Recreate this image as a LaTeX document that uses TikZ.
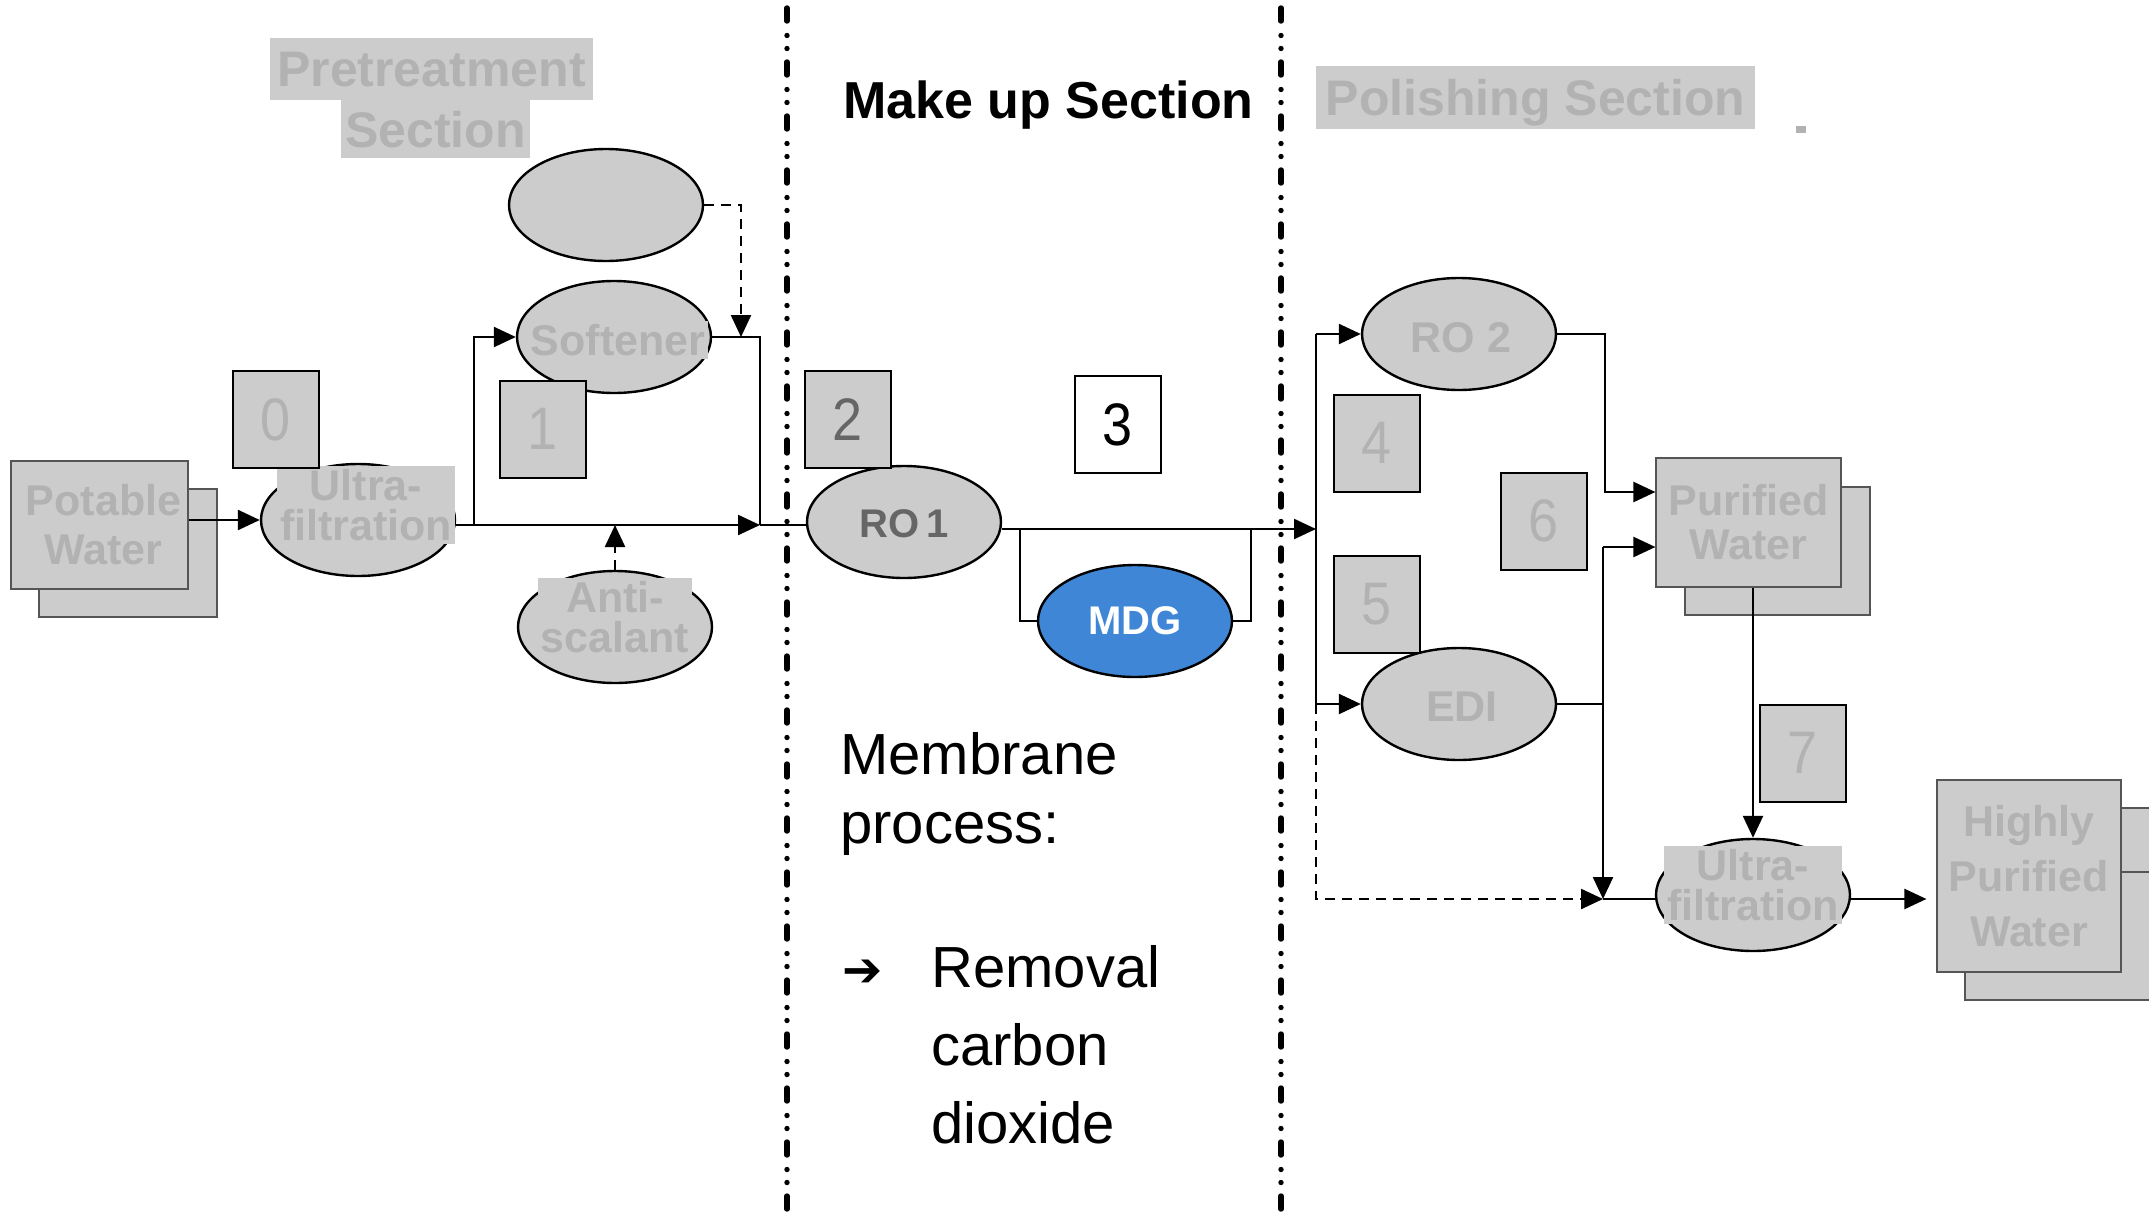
\documentclass[tikz,border=0pt]{standalone}
\usepackage{fontspec}
\setmainfont{Liberation Sans}
\newfontfamily\symfont{DejaVu Sans}
\newfontfamily\digitfont[FakeStretch=0.9]{Liberation Sans}
\usetikzlibrary{shapes.geometric,arrows.meta}
\definecolor{boxgray}{HTML}{CCCCCC}
\definecolor{lblgray}{HTML}{B2B2B2}
\definecolor{rogray}{HTML}{666666}
\definecolor{edgegray}{HTML}{555555}
\definecolor{mdgblue}{HTML}{3F87D6}
\tikzset{
  unit/.style={ellipse, draw=black, line width=1.2pt, fill=boxgray,
    minimum width=97pt, minimum height=56pt, inner sep=0pt},
  numbox/.style={draw=black, line width=1pt, fill=boxgray, minimum width=43pt,
    minimum height=48.5pt, inner sep=0pt, text=lblgray,
    font=\digitfont\fontsize{30pt}{30pt}\selectfont},
  glabel/.style={fill=boxgray, text=lblgray, inner sep=1.5pt, align=center,
    font=\bfseries\fontsize{21.5pt}{20pt}\selectfont},
  stackbox/.style={draw=edgegray, line width=0.6pt, fill=boxgray, inner sep=0pt},
  secbg/.style={fill=boxgray, text=lblgray, inner sep=0pt, text depth=0pt,
    font=\bfseries\fontsize{25pt}{25pt}\selectfont},
  conn/.style={line width=1.2pt},
  arr/.style={conn, -{Triangle[length=11pt,width=10pt]}},
  dconn/.style={conn, dash pattern=on 5pt off 3.5pt},
  darr/.style={dconn, -{Triangle[length=11pt,width=10pt]}},
  divider/.style={line width=2.7pt, line cap=round,
    dash pattern=on 6.5pt off 7.25pt on 0pt off 6.5pt on 0pt off 6.75pt},
  memtext/.style={anchor=base west, inner sep=0pt,
    font=\fontsize{29pt}{34pt}\selectfont},
}
\begin{document}
\begin{tikzpicture}[x=0.5pt,y=-0.5pt]
\useasboundingbox (0,0) rectangle (2149,1221);

% section dividers
\draw[divider] (787,8) -- (787,1221);
\draw[divider] (1281,8) -- (1281,1221);

% section titles
\node[secbg, minimum width=161.5pt, minimum height=31pt] (preA) at (431.5,69) {Pretreatment};
\node[secbg, minimum width=94.5pt, minimum height=29pt] (preB) at (435.5,129) {Section};
\node[anchor=base west, inner sep=0pt, font=\bfseries\fontsize{26pt}{26pt}\selectfont] (makeup) at (843,118) {Make up Section};
\node[secbg, minimum width=219.5pt, minimum height=31.5pt] (polish) at (1535.5,97.5) {Polishing Section};
\node[fill=lblgray, inner sep=0pt, minimum width=5pt, minimum height=3.5pt] (polishmark) at (1801,129.5) {};

% pretreatment section
\node[stackbox, minimum width=89pt, minimum height=64pt] (pwback) at (128,553) {};
\node[stackbox, minimum width=88.5pt, minimum height=64pt, text=lblgray, align=center,
  font=\bfseries\fontsize{21.5pt}{24.5pt}\selectfont] (pw) at (99.5,525) {\hspace*{4pt}Potable\\\hspace*{4pt}Water};

\node[unit] (uf1) at (358,520) {};
\node[glabel] (uf1lbl) at (366,505) {Ultra-\\filtration};
\node[unit] (topu) at (606,205) {};
\node[unit] (sof) at (614,337) {};
\node[glabel, text depth=0pt] (soflbl) at (618,340) {Softener};
\node[unit] (as) at (615,627) {};
\node[glabel] (aslbl) at (615,617) {Anti-\\scalant};

\node[numbox] (n0) at (276,419.5) {0};
\node[numbox] (n1) at (542.5,429) {1};

\coordinate (jA) at (760,525);
\coordinate (sbr) at (474,525);
\coordinate (dropA) at (741,337);

\draw[arr] (pw.east |- uf1.west) -- (uf1.west);
\draw[arr] (uf1.east |- jA) -- (jA);
\draw[arr] (sbr) |- (sof.west);
\draw[conn] (sof.east) -| (jA);
\draw[darr] (topu.east) -| (dropA);
\draw[darr] (as.north) -- (as.north |- jA);
\draw[conn] (jA) -- (jA -| 808,0);

% make up section
\node[unit] (ro1) at (904,522) {};
\node[inner sep=0pt, text=rogray, font=\bfseries\fontsize{20pt}{20pt}\selectfont] (ro1lbl) at (904,524) {RO\,1};
\node[unit, fill=mdgblue] (mdg) at (1135,621) {};
\node[inner sep=0pt, text=white, font=\bfseries\fontsize{20pt}{20pt}\selectfont] (mdglbl) at (1135,621) {MDG};
\node[numbox, text=rogray] (n2) at (848,419.5) {2};
\node[numbox, fill=white, text=black] (n3) at (1118,424.5) {3};

\coordinate (busIn) at (1316,529);
\coordinate (bpL) at (1020,529);
\coordinate (bpR) at (1251,529);
\draw[arr] (ro1.east |- busIn) -- (busIn);
\draw[conn] (bpL) |- (mdg.west);
\draw[conn] (mdg.east) -| (bpR);

\node[memtext] (memA) at (840,774) {Membrane};
\node[memtext] (memB) at (840,843) {process:};
\node[anchor=base west, inner sep=0pt, font=\symfont\bfseries\fontsize{24pt}{24pt}\selectfont] (memArrow) at (842,986) {➔};
\node[memtext] (memC) at (931,987) {Removal};
\node[memtext] (memD) at (931,1065) {carbon};
\node[memtext] (memE) at (931,1143) {dioxide};

% polishing section
\node[unit] (ro2) at (1459,334) {};
\node[glabel, text depth=0pt] (ro2lbl) at (1461,337) {RO 2};
\node[unit] (edi) at (1459,704) {};
\node[glabel, text depth=0pt] (edilbl) at (1462,707) {EDI};
\node[numbox] (n4) at (1377,443) {4};
\node[numbox] (n5) at (1377,604.5) {5};
\node[numbox] (n6) at (1544,521) {6};

\node[stackbox, minimum width=92.5pt, minimum height=64pt] (purback) at (1777.5,551) {};
\node[stackbox, minimum width=92.5pt, minimum height=64.5pt, text=lblgray, align=center,
  font=\bfseries\fontsize{21.5pt}{22pt}\selectfont] (pur) at (1748.5,522.5) {Purified\\Water};

\node[unit] (uf2) at (1753,895) {};
\node[glabel] (uf2lbl) at (1753,885) {Ultra-\\filtration};
\node[numbox] (n7) at (1803,753) {7};

\node[stackbox, minimum width=106pt, minimum height=96pt] (hpwback) at (2071,904) {};
\node[stackbox, minimum width=92pt, minimum height=96pt, text=lblgray, align=center,
  font=\bfseries\fontsize{21.5pt}{27.5pt}\selectfont] (hpw) at (2029,876) {Highly\\Purified\\Water};
\draw[edgegray, line width=0.6pt] (hpw.east |- 0,872) -- (2149,872);

\coordinate (busTop) at (1316,334);
\coordinate (busEdi) at (1316,704);
\coordinate (busBot) at (1316,899);
\coordinate (rise) at (1605,492);
\coordinate (mixT) at (1603,547);
\coordinate (mixB) at (1603,899);

\draw[conn] (busTop) -- (busEdi);
\draw[arr] (busTop) -- (ro2.west);
\draw[arr] (busEdi) -- (edi.west);
\draw[darr] (busEdi) -- (busBot) -- (mixB);
\draw[arr] (ro2.east) -| (rise) -- (rise -| pur.west);
\draw[conn] (edi.east) -- (edi.east -| mixT);
\draw[arr] (mixT) -- (mixT -| pur.west);
\draw[arr] (mixT) -- (mixB);
\draw[conn] (mixB) -- (uf2.west |- mixB);
\draw[arr] (uf2.north |- pur.south) -- (uf2.north);
\draw[arr, shorten >=5pt] (uf2.east |- mixB) -- (hpw.west |- mixB);
\end{tikzpicture}
\end{document}
